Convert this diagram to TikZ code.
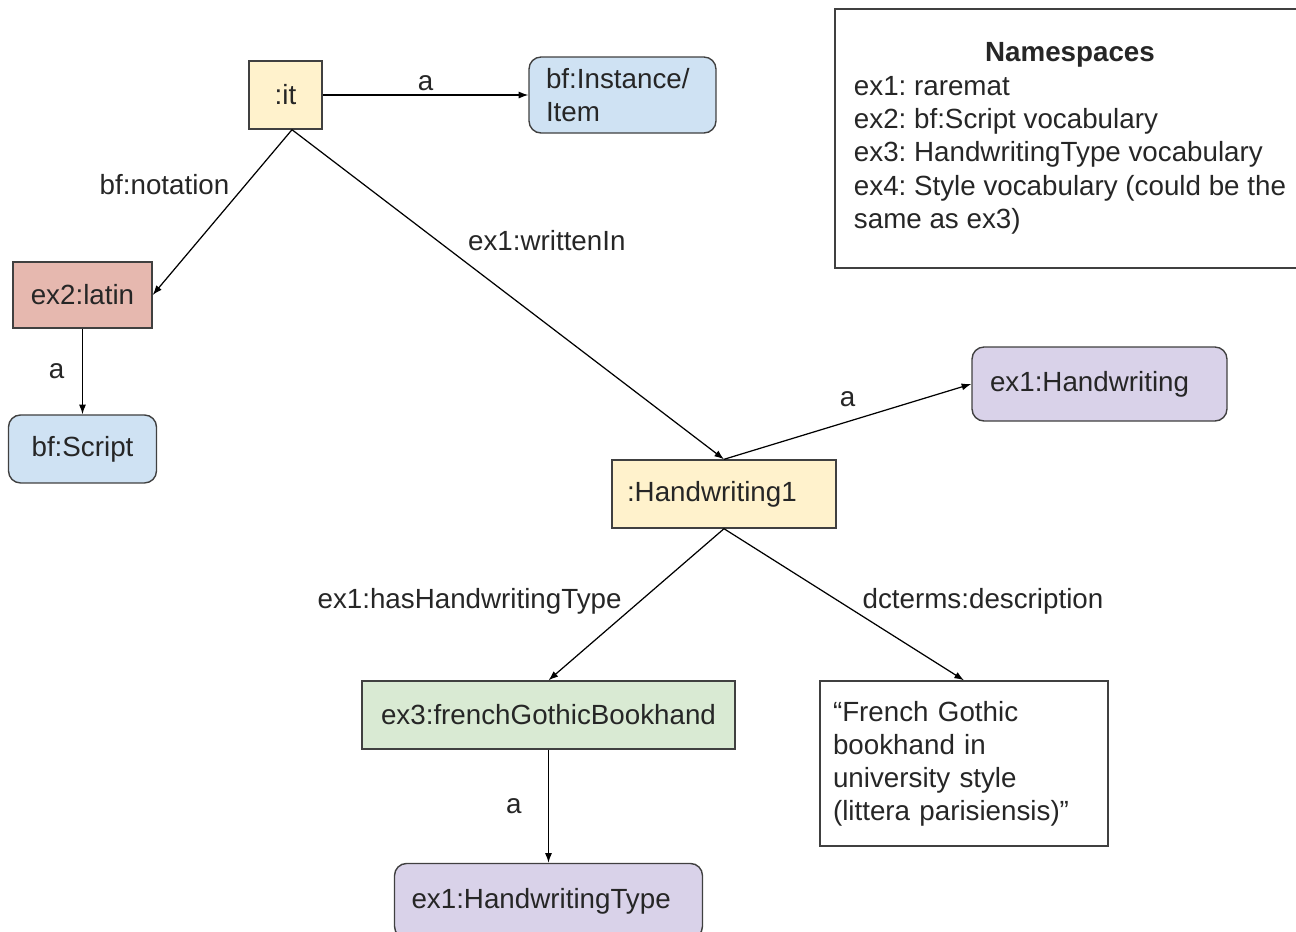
\documentclass[tikz,border=0pt]{standalone}
\usepackage{fontspec}
\setmainfont{Liberation Sans}
\usepackage{xcolor}
\usetikzlibrary{arrows.meta,positioning}

\definecolor{litfill}{HTML}{FFF2CC}
\definecolor{bffill}{HTML}{CFE2F3}
\definecolor{scriptfill}{HTML}{E6B8AF}
\definecolor{exfill}{HTML}{D9D2E9}
\definecolor{typefill}{HTML}{D9EAD3}
\frenchspacing

\begin{document}
\begin{tikzpicture}[x=0.02cm, y=-0.02cm, font=\fontsize{15.8}{19}\selectfont]
        % Define styles
        \tikzset{
            res/.style={rectangle, draw=black!75, line width=0.8pt, text=black!85, minimum height=1.36cm, inner sep=2pt},
            lit/.style={res, fill=litfill},
            cls/.style={res, rounded corners=0.24cm},
            arrow/.style={line width=0.7pt, -{Latex[length=5.5pt,width=4pt]}},
            lbl/.style={inner sep=2pt, text=black!85}
        }
        \useasboundingbox (0,0) rectangle (1296,931);

        % Create nodes
        \node [lit, minimum width=1.46cm] (it) at (285.5,95) {:it};
        \node [cls, fill=bffill, text width=3.06cm, inner xsep=0.34cm, minimum height=1.52cm, align=left] (instance) at (622.5,95) {bf:Instance/\\Item};
        \node [res, fill=scriptfill, minimum width=2.78cm, minimum height=1.32cm] (latin) at (82.5,295) {ex2:latin};
        \node [cls, fill=bffill, minimum width=2.96cm, below of=latin, node distance=3.08cm] (script) {bf:Script};
        \node [lit, text width=3.88cm, inner xsep=0.3cm, align=left] (hw) at (724,494) {:Handwriting1};
        \node [cls, fill=exfill, text width=4.38cm, inner xsep=0.36cm, minimum height=1.48cm, align=left] (hwclass) at (1099.5,384) {ex1:Handwriting};
        \node [res, fill=typefill, minimum width=7.46cm] (ex3) at (548.5,715) {ex3:frenchGothicBookhand};
        \node [cls, fill=exfill, text width=5.48cm, inner xsep=0.34cm, minimum height=1.5cm, align=left, below of=ex3, node distance=3.72cm] (hwtype) {ex1:HandwritingType};
        \node [res, text width=5.24cm, inner xsep=0.26cm, minimum height=3.3cm, align=left, font=\fontsize{15.8}{18.8}\selectfont] (desc) at (964,763.5) {“French Gothic\\bookhand in\\university style\\(littera parisiensis)”};
        \node [res, minimum width=9.4cm, minimum height=5.18cm] (ns) at (1070,138.5) {\begin{tabular}{@{}l@{}}
            \multicolumn{1}{@{}c@{}}{\textbf{Namespaces}}\\
            ex1: raremat\\
            ex2: bf:Script vocabulary\\
            ex3: HandwritingType vocabulary\\
            ex4: Style vocabulary (could be the\\
            same as ex3)
        \end{tabular}};

        % Create arrows
        \draw [arrow] (it) -- node [lbl, above] {a} (instance);
        \draw [arrow] ([xshift=3.7pt]it.south) -- node [lbl, pos=0.42, above left] {bf:notation} (latin.east);
        \draw [arrow] ([xshift=3.7pt]it.south) -- node [lbl, pos=0.39, anchor=south west, inner sep=4pt] {ex1:writtenIn} (hw.north);
        \draw [arrow] (latin) -- node [lbl, left=8pt] {a} (script);
        \draw [arrow] (hw.north) -- node [lbl, above=6pt] {a} (hwclass.west);
        \draw [arrow] (hw.south) -- node [lbl, pos=0.48, left=8pt] {ex1:hasHandwritingType} (ex3.north);
        \draw [arrow] (hw.south) -- node [lbl, pos=0.48, right=11pt] {dcterms:description} (desc.north);
        \draw [arrow] (ex3) -- node [lbl, left=13pt] {a} (hwtype);
    \end{tikzpicture}
\end{document}
